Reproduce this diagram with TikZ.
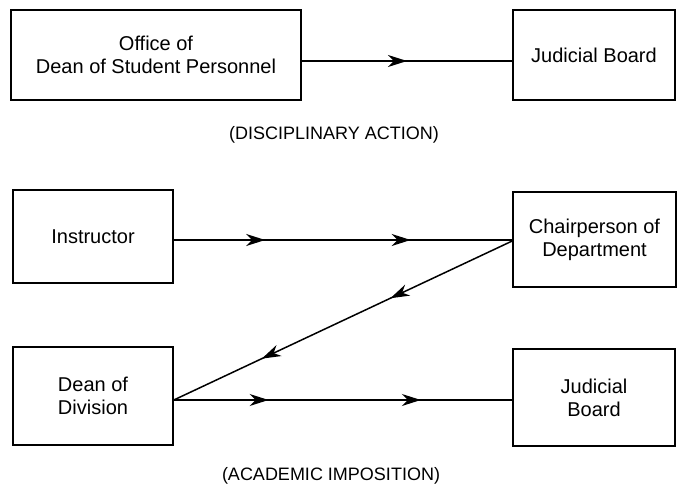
\documentclass[tikz,border=0pt]{standalone}
\usepackage{fontspec}
\setmainfont{Liberation Sans}
\usetikzlibrary{arrows.meta,decorations.markings}
\tikzset{
  mytip/.tip={Stealth[length=19pt,width=12pt,inset=6pt]},
  box/.style={draw, line width=1.6pt, inner sep=0pt, align=center,
    font=\fontsize{20}{23}\selectfont},
  conn/.style={line width=1.5pt},
  arrone/.style={postaction={decorate,decoration={markings,
    mark=at position #1 with {\arrow{mytip}}}}},
  arrtwo/.style 2 args={postaction={decorate,decoration={markings,
    mark=at position #1 with {\arrow{mytip}},
    mark=at position #2 with {\arrow{mytip}}}}},
  caption/.style={font=\fontsize{18}{21}\selectfont}
}
\begin{document}
\begin{tikzpicture}[x=1pt,y=-1pt]
\useasboundingbox (0,0) rectangle (680,484);
\node[box, minimum width=290pt, minimum height=90pt] (office) at (156,55)
  {Office of\\Dean of Student Personnel};
\node[box, minimum width=162pt, minimum height=90pt] (jb1) at (594,55)
  {Judicial Board};
\node[caption] (cap1) at (334,135) {(DISCIPLINARY ACTION)};

\node[box, minimum width=160pt, minimum height=93pt] (instr) at (93,236.5)
  {Instructor};
\node[box, minimum width=163pt, minimum height=95pt] (chair) at (594.5,239.5)
  {Chairperson of\\Department};
\node[box, minimum width=160pt, minimum height=98pt] (dean) at (93,396)
  {Dean of\\Division};
\node[box, minimum width=162pt, minimum height=97pt] (jb2) at (594,397.5)
  {Judicial\\Board};
\node[caption] (cap2) at (331,476) {(ACADEMIC IMPOSITION)};

\draw[conn, arrone=0.5] ([yshift=-6pt]office.east) -- ([yshift=-6pt]jb1.west);
\draw[conn, arrtwo={0.27}{0.70}] ([yshift=-3.5pt]instr.east) -- ([yshift=-0.5pt]chair.west);
\draw[conn, arrtwo={0.36}{0.74}] ([yshift=-1.5pt]chair.west) -- ([yshift=-4pt]dean.east);
\draw[conn, arrtwo={0.28}{0.73}] ([yshift=-4pt]dean.east) -- ([yshift=-2.5pt]jb2.west);
\end{tikzpicture}
\end{document}
